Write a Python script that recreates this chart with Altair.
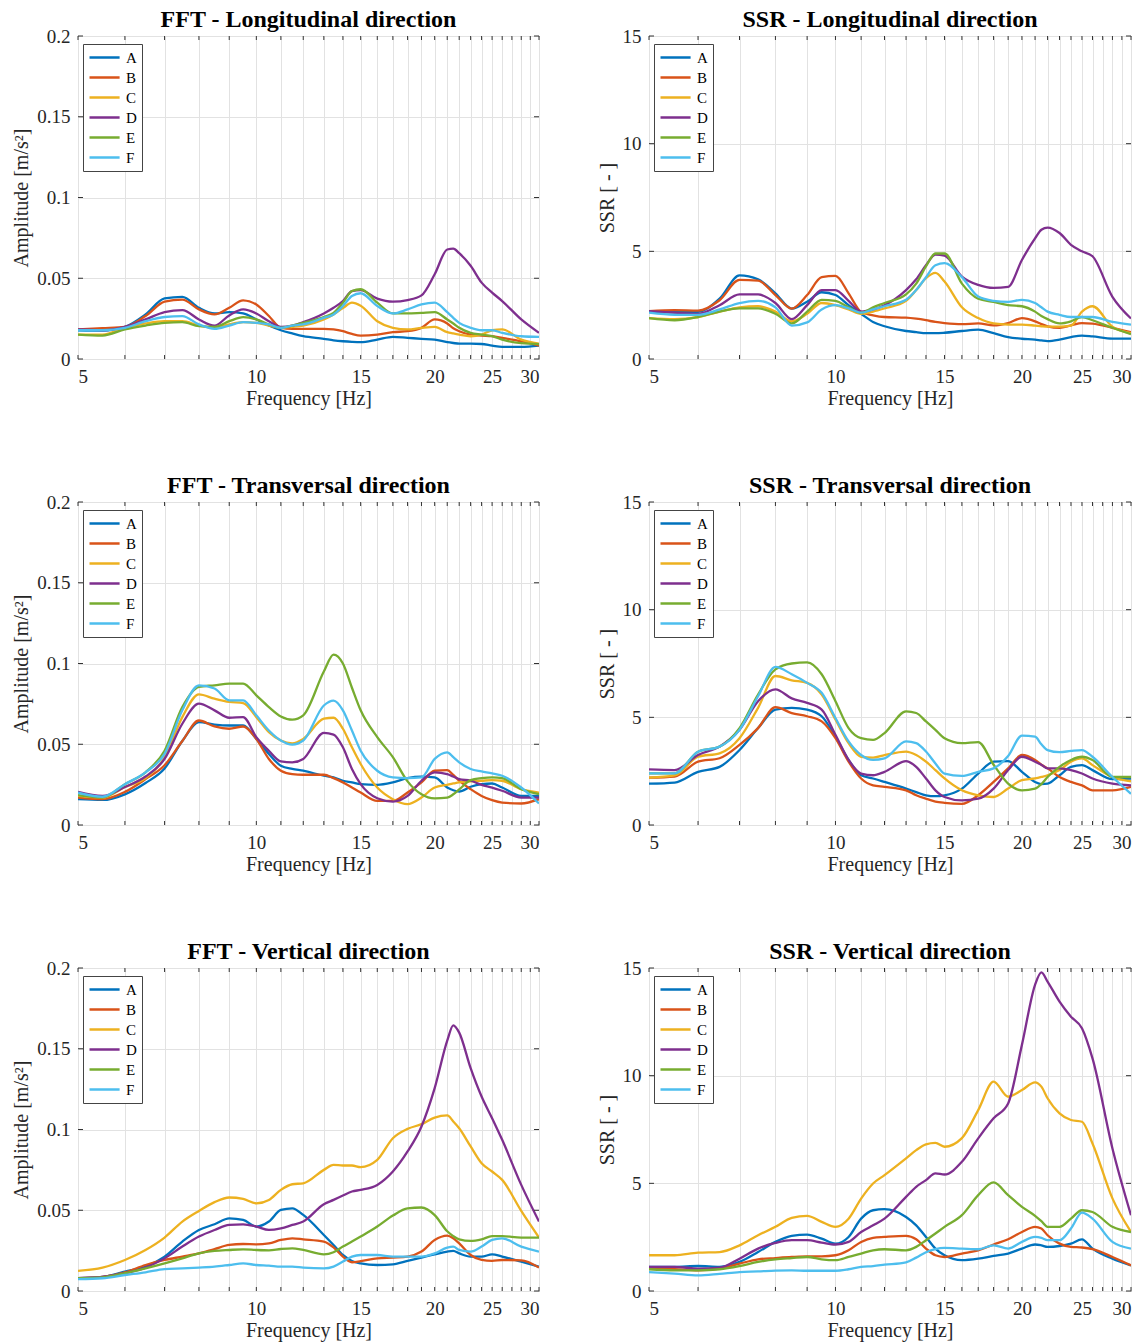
import altair as alt
import pandas as pd

# Frequency samples (Hz) shared by every curve
FREQ = [5, 5.5, 6, 6.5, 7, 7.5, 8, 8.5, 9, 9.5, 10, 10.5, 11, 11.5, 12, 13, 13.5,
        14, 14.5, 15, 16, 17, 18, 19, 20, 21, 21.5, 22, 23, 24, 25, 26, 28, 30]

STATIONS = ["A", "B", "C", "D", "E", "F"]
COLORS = ["#0072BD", "#D95319", "#EDB120", "#7E2F8E", "#77AC30", "#4DBEEE"]

# FFT amplitude spectra [m/s^2]
FFT_LONG = {
    "A": [0.0178, 0.0176, 0.0199, 0.0276, 0.0375, 0.0385, 0.0317, 0.0282, 0.029, 0.0282, 0.0245, 0.0207, 0.0178, 0.0158, 0.0141, 0.0125, 0.0116, 0.011, 0.0106, 0.0104, 0.012, 0.0137, 0.0131, 0.0125, 0.012, 0.0104, 0.0099, 0.0095, 0.0095, 0.0093, 0.0083, 0.0075, 0.0075, 0.0083],
    "B": [0.0183, 0.0191, 0.0199, 0.0266, 0.0355, 0.0368, 0.0307, 0.0276, 0.0317, 0.0363, 0.0338, 0.0266, 0.0193, 0.0187, 0.0187, 0.0187, 0.0183, 0.0172, 0.0155, 0.0145, 0.0151, 0.0166, 0.0172, 0.0193, 0.0245, 0.022, 0.019, 0.0172, 0.0151, 0.0145, 0.0141, 0.0131, 0.011, 0.0083],
    "C": [0.0151, 0.0151, 0.0193, 0.022, 0.0234, 0.0234, 0.0207, 0.0193, 0.0214, 0.0228, 0.0224, 0.0207, 0.0193, 0.0199, 0.0207, 0.0245, 0.0276, 0.0315, 0.0349, 0.033, 0.0234, 0.0193, 0.0183, 0.0193, 0.0199, 0.0166, 0.0158, 0.0151, 0.0141, 0.0151, 0.0178, 0.0183, 0.012, 0.0095],
    "D": [0.0183, 0.0178, 0.0199, 0.0245, 0.029, 0.0303, 0.0245, 0.0207, 0.027, 0.0307, 0.0282, 0.0234, 0.0199, 0.0207, 0.0228, 0.0282, 0.0317, 0.0359, 0.0421, 0.0427, 0.0374, 0.0355, 0.0365, 0.0394, 0.0525, 0.0678, 0.0683, 0.0655, 0.0577, 0.0473, 0.0411, 0.0359, 0.0245, 0.0162],
    "E": [0.0151, 0.0145, 0.0183, 0.0207, 0.0224, 0.0228, 0.0203, 0.0199, 0.0234, 0.0259, 0.0245, 0.0214, 0.0193, 0.0207, 0.0224, 0.026, 0.0286, 0.0349, 0.0421, 0.0432, 0.0349, 0.0282, 0.0282, 0.0286, 0.029, 0.0245, 0.022, 0.0193, 0.0162, 0.0151, 0.0141, 0.012, 0.0098, 0.0092],
    "F": [0.0178, 0.0178, 0.0193, 0.0234, 0.026, 0.0266, 0.0214, 0.0187, 0.0207, 0.0228, 0.0224, 0.0214, 0.0193, 0.0207, 0.0214, 0.0255, 0.0276, 0.0328, 0.039, 0.0407, 0.0328, 0.0282, 0.0307, 0.0338, 0.0349, 0.029, 0.0255, 0.0224, 0.0193, 0.0178, 0.0178, 0.0162, 0.0141, 0.0137],
}
FFT_TRANS = {
    "A": [0.016, 0.0155, 0.019, 0.026, 0.035, 0.052, 0.0637, 0.0622, 0.0616, 0.0616, 0.0533, 0.044, 0.0367, 0.0347, 0.0336, 0.0305, 0.0295, 0.0274, 0.0264, 0.0253, 0.0249, 0.0264, 0.029, 0.0299, 0.0295, 0.0232, 0.0215, 0.0207, 0.0237, 0.0253, 0.0257, 0.0232, 0.018, 0.018],
    "B": [0.017, 0.016, 0.0205, 0.0284, 0.037, 0.052, 0.0647, 0.061, 0.0596, 0.061, 0.0533, 0.0409, 0.0336, 0.0315, 0.0311, 0.0311, 0.029, 0.0264, 0.0232, 0.0201, 0.0149, 0.0149, 0.0201, 0.0264, 0.0336, 0.034, 0.031, 0.0274, 0.0222, 0.018, 0.0154, 0.0139, 0.0133, 0.016],
    "C": [0.018, 0.017, 0.0235, 0.029, 0.0419, 0.0668, 0.0809, 0.0782, 0.0762, 0.0755, 0.0668, 0.0575, 0.0523, 0.0506, 0.0533, 0.0658, 0.0664, 0.0596, 0.0481, 0.0378, 0.0232, 0.016, 0.0129, 0.017, 0.0232, 0.0249, 0.0257, 0.0264, 0.027, 0.0274, 0.0278, 0.0274, 0.0222, 0.0201],
    "D": [0.0205, 0.018, 0.0235, 0.03, 0.0409, 0.0627, 0.0751, 0.071, 0.0664, 0.0668, 0.0544, 0.046, 0.0394, 0.0388, 0.0409, 0.057, 0.056, 0.0481, 0.0347, 0.0253, 0.0166, 0.0145, 0.018, 0.0274, 0.0326, 0.0315, 0.03, 0.0284, 0.0274, 0.0249, 0.0232, 0.0212, 0.017, 0.017],
    "E": [0.0185, 0.017, 0.0253, 0.0326, 0.046, 0.073, 0.0855, 0.0865, 0.0876, 0.0876, 0.0803, 0.073, 0.0672, 0.0652, 0.0679, 0.095, 0.1055, 0.1, 0.085, 0.071, 0.0544, 0.042, 0.027, 0.019, 0.0165, 0.017, 0.019, 0.022, 0.0278, 0.029, 0.0295, 0.029, 0.0222, 0.0191],
    "F": [0.02, 0.0175, 0.0253, 0.0326, 0.044, 0.071, 0.0865, 0.0845, 0.0772, 0.0772, 0.0679, 0.0585, 0.0523, 0.0498, 0.0523, 0.074, 0.077, 0.071, 0.0585, 0.046, 0.0336, 0.0295, 0.029, 0.0295, 0.0409, 0.045, 0.042, 0.0388, 0.0347, 0.0332, 0.032, 0.0305, 0.0232, 0.0133],
}
FFT_VERT = {
    "A": [0.0079, 0.0087, 0.012, 0.0151, 0.0213, 0.0306, 0.0378, 0.0413, 0.045, 0.044, 0.0399, 0.043, 0.0502, 0.0512, 0.0471, 0.0347, 0.0285, 0.0223, 0.0186, 0.0171, 0.0161, 0.0165, 0.0186, 0.0207, 0.0227, 0.0244, 0.0248, 0.0233, 0.0213, 0.0213, 0.0227, 0.0213, 0.0182, 0.0151],
    "B": [0.0079, 0.0087, 0.0115, 0.0161, 0.0192, 0.0213, 0.0233, 0.026, 0.0285, 0.0291, 0.0289, 0.0295, 0.0316, 0.0326, 0.032, 0.0306, 0.027, 0.0213, 0.0178, 0.0185, 0.0202, 0.0207, 0.0213, 0.0244, 0.0316, 0.0343, 0.0326, 0.0295, 0.0223, 0.0192, 0.0186, 0.0192, 0.019, 0.0145],
    "C": [0.0124, 0.0145, 0.0192, 0.0254, 0.0331, 0.043, 0.0496, 0.055, 0.0579, 0.057, 0.0543, 0.0564, 0.0626, 0.0661, 0.0667, 0.075, 0.0781, 0.0777, 0.0777, 0.0767, 0.0812, 0.0946, 0.1004, 0.1033, 0.1074, 0.1087, 0.105, 0.1008, 0.0895, 0.0791, 0.074, 0.0688, 0.0496, 0.0331],
    "D": [0.0079, 0.0087, 0.011, 0.0145, 0.0202, 0.0275, 0.0337, 0.0378, 0.0409, 0.0413, 0.0399, 0.0378, 0.0388, 0.0409, 0.043, 0.0537, 0.0564, 0.0591, 0.0616, 0.0626, 0.0657, 0.074, 0.0864, 0.1019, 0.1256, 0.155, 0.1645, 0.16, 0.138, 0.1204, 0.107, 0.0936, 0.0657, 0.043],
    "E": [0.0079, 0.0085, 0.011, 0.014, 0.0171, 0.0202, 0.0233, 0.0248, 0.0254, 0.0258, 0.0254, 0.0252, 0.026, 0.0264, 0.0254, 0.0227, 0.024, 0.0275, 0.0306, 0.0337, 0.0399, 0.0467, 0.0512, 0.0517, 0.047, 0.037, 0.034, 0.032, 0.031, 0.032, 0.034, 0.034, 0.033, 0.033],
    "F": [0.0074, 0.0079, 0.0099, 0.0116, 0.0136, 0.014, 0.0145, 0.0151, 0.0161, 0.0171, 0.0161, 0.0157, 0.0151, 0.0151, 0.0145, 0.014, 0.0151, 0.0182, 0.0213, 0.0223, 0.0223, 0.0213, 0.0213, 0.0213, 0.0233, 0.0269, 0.0275, 0.0254, 0.0244, 0.0275, 0.0316, 0.0326, 0.0275, 0.0244],
}

# Standard spectral ratios [-]
SSR_LONG = {
    "A": [2.2, 2.17, 2.19, 2.8, 3.88, 3.7, 3.05, 2.34, 2.66, 3.1, 2.97, 2.5, 2.1, 1.72, 1.52, 1.3, 1.25, 1.2, 1.2, 1.22, 1.3, 1.36, 1.2, 1.02, 0.94, 0.9, 0.86, 0.83, 0.9, 1.02, 1.09, 1.05, 0.95, 0.95],
    "B": [2.22, 2.27, 2.25, 2.73, 3.67, 3.64, 2.97, 2.34, 2.97, 3.8, 3.86, 3.05, 2.19, 2.03, 1.95, 1.92, 1.87, 1.8, 1.72, 1.67, 1.62, 1.65, 1.56, 1.67, 1.9, 1.75, 1.62, 1.52, 1.45, 1.56, 1.67, 1.64, 1.45, 1.25],
    "C": [1.9, 1.85, 1.95, 2.2, 2.4, 2.45, 2.2, 1.75, 2.1, 2.6, 2.5, 2.3, 2.1, 2.2, 2.35, 2.7, 3.2, 3.75, 4.0, 3.6, 2.4, 1.9, 1.65, 1.6, 1.6, 1.55, 1.52, 1.5, 1.5, 1.55, 2.2, 2.45, 1.5, 1.2],
    "D": [2.22, 2.15, 2.1, 2.5, 3.0, 3.0, 2.6, 1.85, 2.5, 3.2, 3.2, 2.7, 2.2, 2.3, 2.5, 3.2, 3.7, 4.35, 4.85, 4.8, 3.83, 3.44, 3.3, 3.35, 4.6, 5.6, 6.0, 6.1, 5.85, 5.3, 5.0, 4.77, 2.89, 1.88],
    "E": [1.9, 1.8, 1.95, 2.2, 2.35, 2.35, 2.1, 1.65, 2.2, 2.75, 2.7, 2.4, 2.15, 2.4, 2.6, 3.0, 3.5, 4.3, 4.9, 4.9, 3.5, 2.8, 2.65, 2.5, 2.45, 2.2, 2.0, 1.85, 1.65, 1.75, 1.95, 1.8, 1.45, 1.15],
    "F": [2.15, 2.05, 2.05, 2.3, 2.6, 2.7, 2.4, 1.55, 1.7, 2.3, 2.5, 2.35, 2.15, 2.3, 2.45, 2.75, 3.2, 3.8, 4.35, 4.45, 3.8, 2.9, 2.7, 2.65, 2.75, 2.6, 2.4, 2.2, 2.05, 1.95, 1.95, 1.95, 1.72, 1.6],
}
SSR_TRANS = {
    "A": [1.92, 1.97, 2.47, 2.7, 3.48, 4.5, 5.36, 5.44, 5.36, 5.05, 4.1, 3.02, 2.31, 2.16, 2.0, 1.69, 1.53, 1.38, 1.34, 1.38, 1.69, 2.39, 2.94, 2.97, 2.47, 2.0, 1.9, 1.92, 2.31, 2.7, 2.78, 2.55, 2.13, 2.16],
    "B": [2.2, 2.25, 2.94, 3.1, 3.72, 4.5, 5.47, 5.2, 5.05, 4.81, 4.03, 2.94, 2.16, 1.84, 1.77, 1.61, 1.38, 1.22, 1.09, 1.03, 0.98, 1.38, 2.0, 2.63, 3.25, 3.02, 2.8, 2.63, 2.23, 2.0, 1.84, 1.61, 1.61, 1.77],
    "C": [2.2, 2.3, 3.17, 3.33, 4.03, 5.44, 6.92, 6.72, 6.6, 6.06, 4.9, 3.8, 3.17, 3.13, 3.25, 3.41, 3.25, 2.94, 2.55, 2.16, 1.61, 1.38, 1.3, 1.69, 2.08, 2.16, 2.23, 2.31, 2.55, 2.94, 3.09, 2.78, 2.23, 2.03],
    "D": [2.58, 2.55, 3.25, 3.64, 4.42, 5.75, 6.3, 5.88, 5.67, 5.36, 4.19, 3.02, 2.39, 2.31, 2.47, 2.97, 2.7, 2.16, 1.61, 1.3, 1.14, 1.22, 1.69, 2.55, 3.17, 2.94, 2.8, 2.63, 2.63, 2.55, 2.39, 2.16, 1.92, 1.84],
    "E": [2.4, 2.4, 3.4, 3.64, 4.5, 6.06, 7.23, 7.5, 7.55, 7.0, 5.75, 4.5, 4.03, 3.95, 4.27, 5.28, 5.2, 4.81, 4.42, 4.03, 3.8, 3.85, 2.8, 1.92, 1.61, 1.69, 1.9, 2.23, 2.7, 3.02, 3.17, 3.02, 2.23, 2.23],
    "F": [2.4, 2.4, 3.4, 3.64, 4.42, 5.98, 7.34, 7.0, 6.6, 6.14, 4.97, 3.88, 3.25, 3.02, 3.09, 3.88, 3.8, 3.41, 2.86, 2.39, 2.28, 2.47, 2.63, 3.2, 4.15, 4.1, 3.75, 3.48, 3.38, 3.44, 3.48, 3.17, 2.23, 1.45],
}
SSR_VERT = {
    "A": [1.12, 1.12, 1.16, 1.12, 1.35, 1.81, 2.28, 2.56, 2.62, 2.43, 2.2, 2.51, 3.36, 3.75, 3.8, 3.44, 3.05, 2.51, 1.97, 1.66, 1.43, 1.5, 1.63, 1.74, 1.97, 2.16, 2.12, 2.05, 2.09, 2.2, 2.4, 1.97, 1.5, 1.19],
    "B": [1.04, 1.02, 0.96, 1.04, 1.27, 1.47, 1.53, 1.58, 1.61, 1.61, 1.66, 1.89, 2.28, 2.47, 2.51, 2.56, 2.4, 1.97, 1.66, 1.58, 1.74, 1.89, 2.16, 2.4, 2.74, 2.98, 2.9, 2.59, 2.2, 2.05, 2.02, 1.94, 1.58, 1.19],
    "C": [1.66, 1.66, 1.78, 1.81, 2.12, 2.59, 2.98, 3.4, 3.49, 3.21, 2.98, 3.36, 4.29, 4.99, 5.38, 6.16, 6.54, 6.81, 6.88, 6.7, 7.1, 8.4, 9.72, 9.02, 9.33, 9.69, 9.49, 8.95, 8.25, 7.94, 7.86, 6.85, 4.3, 2.74],
    "D": [1.12, 1.12, 1.04, 1.08, 1.5, 1.97, 2.23, 2.36, 2.36, 2.25, 2.16, 2.28, 2.74, 3.05, 3.36, 4.37, 4.84, 5.15, 5.46, 5.41, 6.0, 7.09, 8.02, 8.71, 11.43, 14.22, 14.8, 14.37, 13.44, 12.74, 12.2, 10.8, 6.62, 3.52],
    "E": [1.01, 0.96, 0.96, 1.01, 1.16, 1.35, 1.47, 1.53, 1.58, 1.47, 1.43, 1.58, 1.74, 1.89, 1.94, 1.89, 2.05, 2.36, 2.67, 2.98, 3.52, 4.45, 5.04, 4.45, 3.91, 3.49, 3.24, 2.98, 2.98, 3.36, 3.75, 3.67, 2.98, 2.74],
    "F": [0.88, 0.81, 0.73, 0.8, 0.88, 0.91, 0.95, 0.96, 0.94, 0.94, 0.94, 1.01, 1.12, 1.16, 1.22, 1.33, 1.55, 1.8, 1.95, 2.0, 1.97, 1.94, 2.12, 1.97, 2.28, 2.51, 2.47, 2.36, 2.36, 2.9, 3.64, 3.36, 2.28, 1.97],
}

FFT_TICKS = [0, 0.05, 0.1, 0.15, 0.2]
SSR_TICKS = [0, 5, 10, 15]
X_TICKS = list(range(5, 31))

FONT = "Liberation Serif"
EDGE = "#333333"


def panel(series, title, y_title, y_max, y_ticks, width, height=323):
    frame = pd.DataFrame(
        [{"Frequency": f, "Value": v, "Station": s}
         for s in STATIONS for f, v in zip(FREQ, series[s])]
    )
    x_scale = alt.Scale(type="log", domain=[5, 30], nice=False)
    y_scale = alt.Scale(domain=[0, y_max], nice=False, zero=True)
    x_axis = alt.Axis(
        values=X_TICKS, format="d", labelOverlap=False,
        labelExpr="datum.value % 5 == 0 ? datum.label : ''",
        title="Frequency [Hz]", labelPadding=8, titlePadding=2,
    )
    y_axis = alt.Axis(values=y_ticks, format="~g", title=y_title,
                      labelPadding=8, titlePadding=5)

    legend = alt.Legend(
        title=None, orient="none", legendX=5, legendY=8,
        symbolType="M-1,0H3.3", symbolSize=196, symbolStrokeWidth=2.5,
        labelFont=FONT, labelFontSize=15, labelColor="black", labelOffset=21,
        strokeColor="#444444", fillColor="white", padding=5, rowPadding=3,
        cornerRadius=0,
    )
    lines = alt.Chart(frame).mark_line(
        interpolate="monotone", strokeWidth=2.3, clip=True
    ).encode(
        x=alt.X("Frequency:Q", scale=x_scale, axis=x_axis),
        y=alt.Y("Value:Q", scale=y_scale, axis=y_axis),
        color=alt.Color("Station:N", scale=alt.Scale(domain=STATIONS, range=COLORS),
                        legend=legend),
        detail="Station:N",
    )

    # inward tick marks on all four edges of the box
    xt = pd.DataFrame({"Frequency": X_TICKS})
    yt = pd.DataFrame({"Value": y_ticks})
    x_bottom = alt.Chart(xt).mark_rule(color=EDGE, strokeWidth=1).encode(
        x=alt.X("Frequency:Q", scale=x_scale, axis=x_axis),
        y=alt.value(height), y2=alt.value(height - 4))
    x_top = alt.Chart(xt).mark_rule(color=EDGE, strokeWidth=1).encode(
        x=alt.X("Frequency:Q", scale=x_scale, axis=x_axis),
        y=alt.value(0), y2=alt.value(4))
    y_left = alt.Chart(yt).mark_rule(color=EDGE, strokeWidth=1).encode(
        y=alt.Y("Value:Q", scale=y_scale, axis=y_axis),
        x=alt.value(0), x2=alt.value(5))
    y_right = alt.Chart(yt).mark_rule(color=EDGE, strokeWidth=1).encode(
        y=alt.Y("Value:Q", scale=y_scale, axis=y_axis),
        x=alt.value(width - 5), x2=alt.value(width))

    return alt.layer(lines, x_bottom, x_top, y_left, y_right).properties(
        width=width, height=height,
        title=alt.TitleParams(title, font=FONT, fontSize=24, fontWeight="bold",
                              color="black", offset=-5, anchor="middle",
                              frame="group"),
    )


AMP = "Amplitude [m/s²]"
SSR = "SSR [ - ]"
LW, RW = 461, 482

panels = []
for fft, ssr, name in [(FFT_LONG, SSR_LONG, "Longitudinal"),
                       (FFT_TRANS, SSR_TRANS, "Transversal"),
                       (FFT_VERT, SSR_VERT, "Vertical")]:
    panels.append(panel(fft, f"FFT - {name} direction", AMP, 0.2, FFT_TICKS, LW))
    panels.append(panel(ssr, f"SSR - {name} direction", SSR, 15, SSR_TICKS, RW))

chart = (
    alt.concat(*panels, columns=2, spacing={"row": 143, "column": 110}, bounds="flush")
    .resolve_scale(color="independent")
    .resolve_legend(color="independent")
    .properties(padding={"left": 11, "top": 7, "right": 5, "bottom": 5})
    .configure(background="white")
    .configure_view(stroke=EDGE, strokeWidth=1)
    .configure_axis(
        labelFont=FONT, labelFontSize=19, labelColor="#262626",
        titleFont=FONT, titleFontSize=20, titleFontWeight="normal",
        titleColor="#262626", domain=False, ticks=False,
        grid=True, gridColor="#e2e2e2", gridWidth=1,
    )
)

chart.save("out.html", embed_options={"renderer": "svg", "actions": False})
